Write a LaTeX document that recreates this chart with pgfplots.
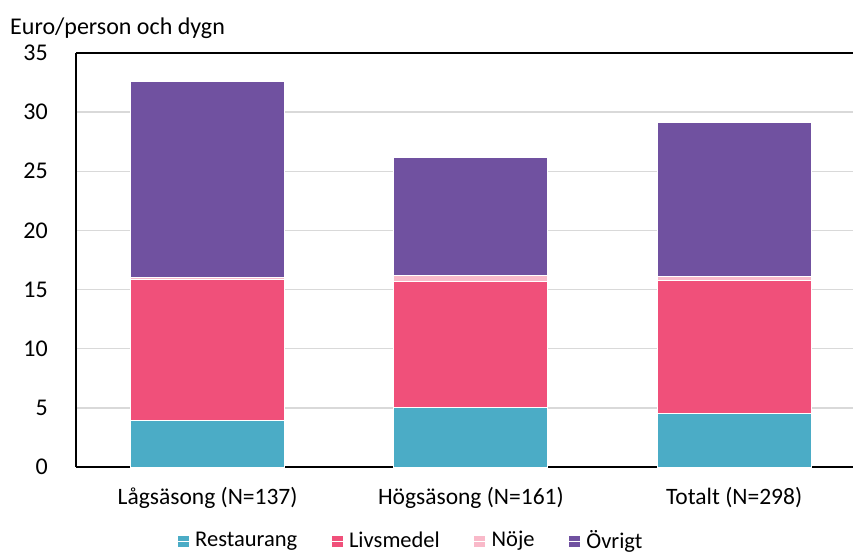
\documentclass[border=0pt]{standalone}
\usepackage{pgfplots}
\pgfplotsset{compat=1.18}
\usepackage{fontspec}
\setmainfont{Carlito}
\definecolor{cRest}{RGB}{75,172,198}
\definecolor{cLivs}{RGB}{240,80,122}
\definecolor{cNoje}{RGB}{249,185,201}
\definecolor{cOvr}{RGB}{112,81,160}
\definecolor{cGrid}{RGB}{217,217,217}
\begin{document}
\fontsize{24}{28}\selectfont
\begin{tikzpicture}
\begin{axis}[
  anchor=south west,
  scale only axis, width=789.75pt, height=414pt,
  ybar stacked, bar width=154pt,
  xmin=-0.5, xmax=2.5, ymin=0, ymax=35,
  xtick=data, xticklabels={Lågsäsong (N=137),Högsäsong (N=161),Totalt (N=298)},
  ytick={0,5,...,35},
  major tick length=0pt,
  /pgf/number format/assume math mode=true,
  ymajorgrids, grid style={cGrid, line width=1.5pt},
  axis x line*=bottom, axis y line*=left,
  axis line style={black, line width=1.6pt},
  separate axis lines,
  x axis line style={-}, y axis line style={-},
  yticklabel style={anchor=east, xshift=-20pt, font=\fontsize{24}{28}\selectfont},
  xticklabel style={anchor=center, yshift=-31pt, font=\fontsize{23.5}{28}\selectfont},
  legend columns=4,
  legend style={at={(0.424,0)}, anchor=center, yshift=-74pt, draw=none, fill=none,
    font=\fontsize{22.5}{27}\selectfont, /tikz/every even column/.append style={column sep=32pt}},
  legend image code/.code={\fill[#1, draw=none] (0pt,-5.5pt) rectangle (11pt,5.5pt); \path (0pt,0pt) -- (15pt,0pt);},
  every axis plot/.append style={draw=white, line width=0.8pt},
  clip=false,
]
\addplot[fill=cRest] coordinates {(0,3.9) (1,5.0) (2,4.5)};
\addplot[fill=cLivs] coordinates {(0,11.95) (1,10.65) (2,11.25)};
\addplot[fill=cNoje] coordinates {(0,0.17) (1,0.52) (2,0.35)};
\addplot[fill=cOvr] coordinates {(0,16.6) (1,10.03) (2,13.0)};
\legend{Restaurang,Livsmedel,Nöje,Övrigt}
\draw[black, line width=1.6pt] (rel axis cs:0,1) -- (rel axis cs:1,1);
\end{axis}
\node[anchor=base west, inner sep=0pt] at (-66pt,432pt) {Euro/person och dygn};
\pgfresetboundingbox
\path[use as bounding box] (-76pt,-87pt) rectangle (777pt,467pt);
\end{tikzpicture}
\end{document}
